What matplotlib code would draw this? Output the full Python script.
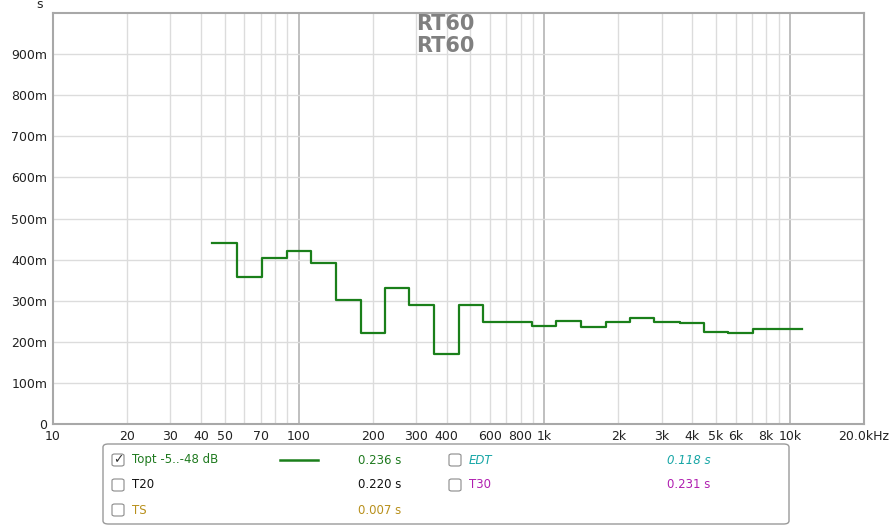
import numpy as np
import matplotlib.pyplot as plt
from matplotlib.patches import FancyBboxPatch
from matplotlib.ticker import FixedLocator, NullFormatter

# third-octave band centres (Hz) and RT60 (s)
centres = [50, 63, 80, 100, 125, 160, 200, 250, 315, 400, 500, 630,
           800, 1000, 1250, 1600, 2000, 2500, 3150, 4000, 5000, 6300, 8000, 10000]
rt60 = [0.441, 0.358, 0.405, 0.422, 0.391, 0.302, 0.222, 0.331, 0.289, 0.170,
        0.289, 0.249, 0.247, 0.238, 0.250, 0.237, 0.249, 0.259, 0.249, 0.245,
        0.224, 0.222, 0.232, 0.232]

xtick_vals = [10, 20, 30, 40, 50, 70, 100, 200, 300, 400, 600, 800, 1000,
              2000, 3000, 4000, 5000, 6000, 8000, 10000, 20000]
xtick_labels = ['10', '20', '30', '40', '50', '70', '100', '200', '300', '400',
                '600', '800', '1k', '2k', '3k', '4k', '5k', '6k', '8k', '10k', '20.0kHz']
ytick_vals = [0, 0.1, 0.2, 0.3, 0.4, 0.5, 0.6, 0.7, 0.8, 0.9]
ytick_labels = ['0', '100m', '200m', '300m', '400m', '500m', '600m', '700m', '800m', '900m']

# legend rows: (label, value, colour, italic, checked)
legend_rows = [
    ('Topt -5..-48 dB', '0.236 s', '#1f7a1f', False, True),
    ('EDT', '0.118 s', '#17a6a6', True, False),
    ('T20', '0.220 s', '#111111', False, False),
    ('T30', '0.231 s', '#b01fb0', False, False),
    ('TS', '0.007 s', '#b8901c', False, False),
]

W, H = 890, 527
fig = plt.figure(figsize=(W / 100, H / 100), dpi=100)
ax = fig.add_axes([53 / W, (H - 424) / H, (864 - 53) / W, (424 - 13) / H])

# band edges: geometric midpoints between centres, half a third-octave at the ends
c = np.array(centres, dtype=float)
edges = np.concatenate([[c[0] / 2 ** (1 / 6)], np.sqrt(c[:-1] * c[1:]), [c[-1] * 2 ** (1 / 6)]])
ax.step(edges, rt60 + [rt60[-1]], where='post', color='#1a7f1a', lw=1.6)

ax.set_xscale('log')
ax.set_xlim(10, 20000)
ax.set_ylim(0, 1.0)

# grid
minor = [m * d for d in [10, 100, 1000, 10000] for m in range(2, 10) if m * d < 20000]
for x in minor:
    ax.axvline(x, color='#dcdcdc', lw=1, zorder=0)
for x in [100, 1000, 10000]:
    ax.axvline(x, color='#b4b4b4', lw=1.2, zorder=0)
for y in ytick_vals[1:]:
    ax.axhline(y, color='#dcdcdc', lw=1, zorder=0)

ax.xaxis.set_major_locator(FixedLocator(xtick_vals))
ax.set_xticklabels(xtick_labels)
ax.xaxis.set_minor_formatter(NullFormatter())
ax.xaxis.set_minor_locator(FixedLocator([]))
ax.set_yticks(ytick_vals)
ax.set_yticklabels(ytick_labels)
ax.tick_params(length=0, labelsize=9, colors='#222222', pad=4)
for s in ax.spines.values():
    s.set_color('#a8a8a8')
    s.set_linewidth(1.5)

fig.text(53 / W - 0.012, 1 - 5 / H, 's', ha='right', va='center', fontsize=9, color='#222222')

for yy in [24, 46]:
    fig.text(445 / W, 1 - yy / H, 'RT60', ha='center', va='center',
             fontsize=15, fontweight='bold', color='#808080')

# legend panel
box = FancyBboxPatch((103 / W, 1 - 524 / H), (789 - 103) / W, (524 - 444) / H,
                     boxstyle='round,pad=0,rounding_size=0.006',
                     transform=fig.transFigure, facecolor='white',
                     edgecolor='#9a9a9a', lw=1)
fig.patches.append(box)

positions = [(118, 460), (455, 460), (118, 485), (455, 485), (118, 510)]
val_x = {118: 358, 455: 667}
for (lab, val, col, ital, chk), (px, py) in zip(legend_rows, positions):
    cb = FancyBboxPatch(((px - 6) / W, 1 - (py + 6) / H), 12 / W, 12 / H,
                        boxstyle='round,pad=0,rounding_size=0.003',
                        transform=fig.transFigure, facecolor='white',
                        edgecolor='#8a8a8a', lw=0.8)
    fig.patches.append(cb)
    if chk:
        fig.text(px / W, 1 - py / H, '\u2713', ha='center', va='center',
                 fontsize=9, color='#333333')
    style = 'italic' if ital else 'normal'
    fig.text((px + 14) / W, 1 - py / H, lab, ha='left', va='center',
             fontsize=8.5, color=col, style=style)
    fig.text(val_x[px] / W, 1 - py / H, val, ha='left', va='center',
             fontsize=8.5, color=col, style=style)

fig.add_artist(plt.Line2D([280 / W, 318 / W], [1 - 460 / H, 1 - 460 / H],
                          color='#1a7f1a', lw=1.8, transform=fig.transFigure))

fig.savefig('out.png', dpi=100)
